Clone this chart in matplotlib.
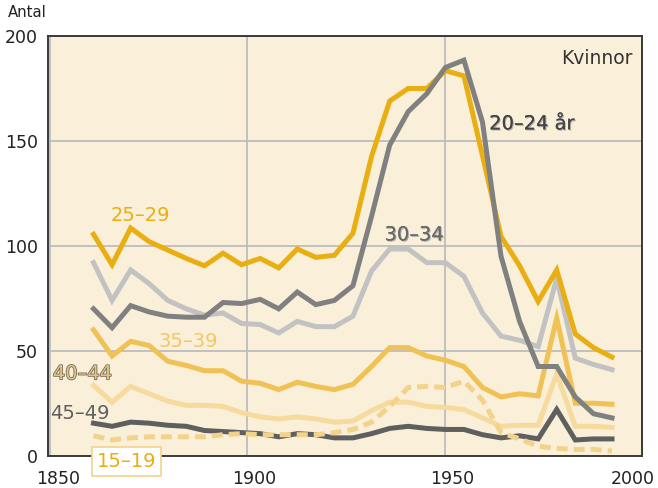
import matplotlib.pyplot as plt
import matplotlib.patheffects as pe
from matplotlib.transforms import ScaledTranslation

# mittpunkter for femarsperioderna
years = [1861.1, 1865.8, 1870.5, 1875.2, 1879.9, 1884.6, 1889.2, 1893.9, 1898.6,
         1903.3, 1908.0, 1912.7, 1917.4, 1922.1, 1926.8, 1931.5, 1936.1, 1940.8,
         1945.5, 1950.2, 1954.9, 1959.6, 1964.3, 1969.0, 1973.7, 1978.4, 1983.1,
         1987.7, 1992.4]

# antal per aldersgrupp
a15_19 = [9.5, 7.5, 8.5, 9, 9, 9, 9, 10, 10.5, 10, 10, 10, 10, 11, 12.5, 16,
          23.5, 32.5, 33, 32.5, 35.5, 26.5, 11, 8, 4.5, 3.5, 3, 3, 2.2]
a20_24 = [70, 61, 71.5, 68.5, 66.5, 66, 66, 73, 72.5, 74.5, 70, 78, 72, 74, 81,
          114, 148, 164, 172.5, 185, 188.5, 159, 95, 64, 42.5, 42.5, 28, 20, 18]
a25_29 = [105.5, 91, 108.5, 102, 98, 94, 90.5, 96.5, 91, 94, 89.5, 98.5, 94.5,
          95.5, 106, 142.5, 169, 175, 175, 183.5, 181, 143, 104.5, 90.5, 73.5,
          88.5, 58, 51.5, 47]
a30_34 = [92, 74, 88.5, 82, 74, 70, 67, 68, 63, 62.5, 58.5, 64, 61.5, 61.5, 66.5,
          88, 98.5, 98.5, 92, 92, 85.5, 68, 57, 55, 52, 84.5, 46.5, 43.5, 41]
a35_39 = [60, 47.5, 54.5, 52.5, 45, 43, 40.5, 40.5, 35.5, 34.5, 31.5, 35, 33,
          31.5, 34, 42.5, 51.5, 51.5, 47.5, 45.5, 42.5, 32.5, 28, 29.5, 28.5,
          65.5, 25, 25, 24.5]
a40_44 = [33.5, 25.5, 33, 29.5, 26, 24, 24, 23.5, 20.5, 18.5, 17.5, 18.5, 17.5,
          16, 16.5, 21.5, 25.5, 25.5, 23.5, 23, 22, 18, 14, 14.5, 14.5, 39, 14,
          14, 13.5]
a45_49 = [15.5, 14, 16, 15.5, 14.5, 14, 12, 11.5, 11, 10.5, 9, 10.5, 10, 8.5,
          8.5, 10.5, 13, 14, 13, 12.5, 12.5, 10, 8.5, 9.5, 8, 22, 7.5, 8, 8]

xticks = [1850, 1900, 1950, 2000]
yticks = [0, 50, 100, 150, 200]

plt.rcParams['font.family'] = ['DejaVu Sans']

fig = plt.figure(figsize=(6.58, 4.88), dpi=100)
ax = fig.add_axes([0.0725, 0.0662, 0.9032, 0.8600])
ax.set_facecolor('#FAF0D9')

lw = 3.6
ax.plot(years, a45_49, color='#5F5F5F', lw=lw, solid_joinstyle='miter', zorder=3)
ax.plot(years, a40_44, color='#F6DA9E', lw=lw, solid_joinstyle='miter', zorder=3)
ax.plot(years, a35_39, color='#F0C155', lw=lw, solid_joinstyle='miter', zorder=3)
ax.plot(years, a30_34, color='#C2C2C2', lw=lw, solid_joinstyle='miter', zorder=3)
ax.plot(years, a25_29, color='#E8AE12', lw=lw, solid_joinstyle='miter', zorder=3)
ax.plot(years, a20_24, color='#808080', lw=lw, solid_joinstyle='miter', zorder=3)
ax.plot(years, a15_19, color='#F3D38C', lw=lw, dashes=(2.2, 1.2),
        dash_capstyle='butt', zorder=4)

ax.set_xlim(1849.5, 2000)
ax.set_ylim(0, 200)
ax.set_xticks(xticks)
ax.set_yticks(yticks)
ax.tick_params(length=0, labelsize=12.5, colors='#222222')
ax.tick_params(axis='y', pad=7)
ax.tick_params(axis='x', pad=10)
ax.grid(True, color='#BDBDBD', lw=1.3)
ax.set_axisbelow(True)
for s in ax.spines.values():
    s.set_color('#3a3a3a')
    s.set_linewidth(1.4)

# flytta arsetiketterna lite i sidled
shifts = [8, 7.5, 7.5, -9]
for lab, dx in zip(ax.get_xticklabels(), shifts):
    lab.set_transform(lab.get_transform() + ScaledTranslation(dx / 100, 0, fig.dpi_scale_trans))

fig.text(0.0122, 0.9645, 'Antal', fontsize=10.7, color='#222222', va='baseline')

shadow = [pe.withSimplePatchShadow(offset=(0.8, -0.8), shadow_rgbFace='#b0b0b0', alpha=1), pe.Normal()]
ax.text(1997.5, 186.7, 'Kvinnor', fontsize=13.5, color='#333333', ha='right', va='baseline')
ax.text(1961.3, 155.5, '20–24 år', fontsize=14, color='#444444', va='baseline', path_effects=shadow)
ax.text(1865.5, 111.8, '25–29', fontsize=14, color='#E8AE12', va='baseline')
ax.text(1934.8, 102.6, '30–34', fontsize=14, color='#6a6a6a', va='baseline', path_effects=shadow)
ax.text(1877.6, 51.8, '35–39', fontsize=14, color='#F2C766', va='baseline')
ax.text(1850.8, 36.4, '40–44', fontsize=14, color='#E2C685', va='baseline',
        path_effects=[pe.withStroke(linewidth=1.1, foreground='#6e6457')])
ax.text(1850.2, 17.6, '45–49', fontsize=14, color='#5F5F5F', va='baseline')
ax.text(1861.9, -5.5, '15–19', fontsize=14, color='#E8AE12', va='baseline', zorder=10,
        clip_on=False,
        bbox=dict(boxstyle='square,pad=0.25', fc='white', ec='#F3D38C', lw=1.2))

fig.savefig('out.png', dpi=100)
